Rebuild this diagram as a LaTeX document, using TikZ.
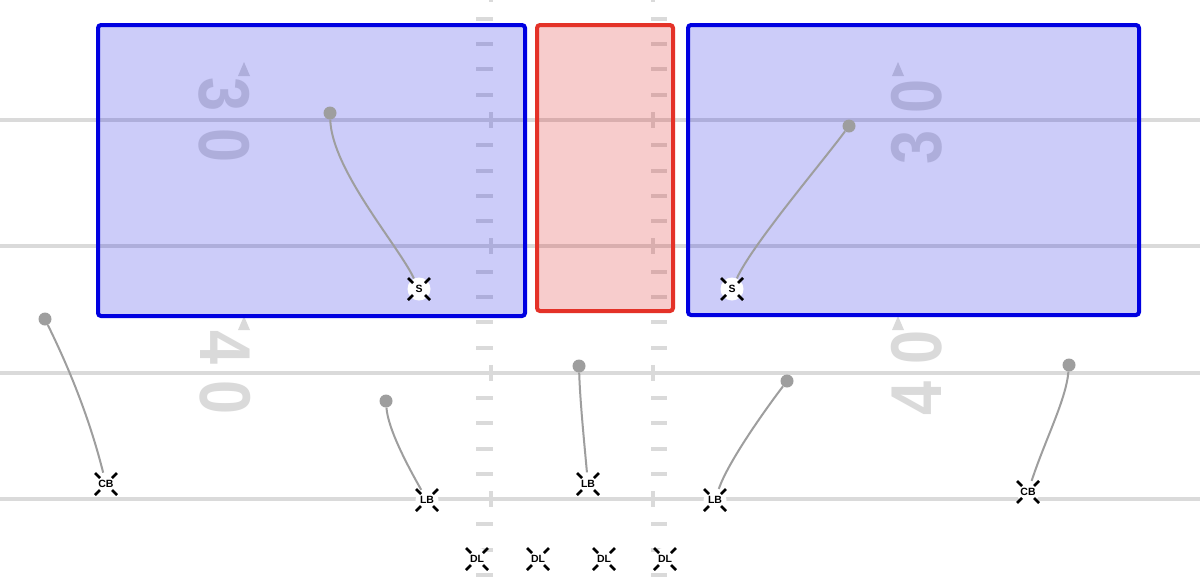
\documentclass[tikz,border=0pt]{standalone}
\usepackage{fontspec}
\setmainfont{Liberation Sans}
\usepackage{graphicx}
\definecolor{fieldgray}{RGB}{218,218,218}
\definecolor{routegray}{RGB}{158,158,158}
\definecolor{zoneblue}{RGB}{0,0,225}
\definecolor{zonered}{RGB}{228,50,40}
\definecolor{zoneredfill}{RGB}{215,0,0}
\tikzset{
  yardline/.style={draw=fieldgray, line width=4pt},
  hashmark/.style={draw=fieldgray, line width=4pt},
  yardnum/.style={text=fieldgray, font=\fontsize{72}{72}\selectfont\bfseries, inner sep=0pt},
  numarrow/.style={fill=fieldgray},
  bluezone/.style={draw=zoneblue, line width=4pt, fill=zoneblue, fill opacity=0.2, draw opacity=1, rounded corners=3pt},
  redzone/.style={draw=zonered, line width=4pt, fill=zoneredfill, fill opacity=0.2, draw opacity=1, rounded corners=3pt},
  route/.style={draw=routegray, line width=2pt},
  routeend/.style={circle, fill=routegray, minimum size=13pt, inner sep=0pt},
  player/.style={circle, fill=white, minimum size=23pt, inner sep=0pt, font=\fontsize{10.5}{10.5}\selectfont\bfseries},
  xtick/.style={draw=black, line width=2.6pt},
}
\begin{document}
\begin{tikzpicture}[x=1pt,y=-1pt]
\useasboundingbox (0,0) rectangle (1200,582);
\fill[white] (0,0) rectangle (1200,582);
% yard lines
\foreach \yy in {120,246.4,372.8,499.2}
  \draw[yardline] (0,\yy) -- (1200,\yy);
% hash marks
\foreach \base in {-6.4,120,246.4,372.8,499.2} {
  \draw[hashmark] (490.5,{\base-8}) -- (490.5,{\base+8});
  \draw[hashmark] (653,{\base-8}) -- (653,{\base+8});
  \foreach \j in {1,2,3,4} {
    \draw[hashmark] (476,{\base+25.28*\j}) -- (493,{\base+25.28*\j});
    \draw[hashmark] (651,{\base+25.28*\j}) -- (667,{\base+25.28*\j});
  }
}
% yard numbers
\node[yardnum, rotate=-90] (n30a) at (224,95) {\scalebox{0.85}[1]{3}};
\node[yardnum, rotate=-90] (n30b) at (224,146) {\scalebox{0.85}[1]{0}};
\node[yardnum, rotate=-90] (n40a) at (225,348) {\scalebox{0.85}[1]{4}};
\node[yardnum, rotate=-90] (n40b) at (225,398) {\scalebox{0.85}[1]{0}};
\node[yardnum, rotate=90] (m30a) at (917,96) {\scalebox{0.85}[1]{0}};
\node[yardnum, rotate=90] (m30b) at (917,147) {\scalebox{0.85}[1]{3}};
\node[yardnum, rotate=90] (m40a) at (917,347) {\scalebox{0.85}[1]{0}};
\node[yardnum, rotate=90] (m40b) at (917,398) {\scalebox{0.85}[1]{4}};
\fill[numarrow] (244,62) -- (250,76) -- (238,76) -- cycle;
\fill[numarrow] (244,316) -- (250,330) -- (238,330) -- cycle;
\fill[numarrow] (898,62) -- (904,76) -- (892,76) -- cycle;
\fill[numarrow] (898,316) -- (904,330) -- (892,330) -- cycle;
% zones
\draw[bluezone] (98,25) rectangle (525,316);
\draw[redzone] (537,25) rectangle (673,311);
\draw[bluezone] (688,25) rectangle (1139,315);
% players
\node[player] (sL) at (419,289) {S};
\node[player] (sR) at (732,289) {S};
\node[player] (cbL) at (106,484) {CB};
\node[player] (lbL) at (427,500) {LB};
\node[player] (lbM) at (588,484) {LB};
\node[player] (lbR) at (715,500) {LB};
\node[player] (cbR) at (1028,492) {CB};
\node[player] (dlA) at (477,559) {DL};
\node[player] (dlB) at (538,559) {DL};
\node[player] (dlC) at (604,559) {DL};
\node[player] (dlD) at (665,559) {DL};
% route ends
\node[routeend] (dsL) at (330,113) {};
\node[routeend] (dsR) at (849,126) {};
\node[routeend] (dcbL) at (45,319) {};
\node[routeend] (dlbL) at (386,401) {};
\node[routeend] (dlbM) at (579,366) {};
\node[routeend] (dlbR) at (787,381) {};
\node[routeend] (dcbR) at (1069,365) {};
% routes
\draw[route] (sL) .. controls (398,245) and (332,170) .. (dsL);
\draw[route] (sR) .. controls (752,245) and (820,165) .. (dsR);
\draw[route] (cbL) .. controls (85,400) and (56,342) .. (dcbL);
\draw[route] (lbL) .. controls (410,470) and (388,430) .. (dlbL);
\draw[route] (lbM) .. controls (584,440) and (580,400) .. (dlbM);
\draw[route] (lbR) .. controls (728,462) and (765,410) .. (dlbR);
\draw[route] (cbR) .. controls (1045,440) and (1066,400) .. (dcbR);
% player ticks
\foreach \n in {sL,sR,cbL,lbL,lbM,lbR,cbR,dlA,dlB,dlC,dlD}
  \foreach \sx/\sy in {1/1,1/-1,-1/1,-1/-1}
    \draw[xtick] ([shift={({6*(\sx)},{6*(\sy)})}]\n.center) -- ([shift={({11*(\sx)},{11*(\sy)})}]\n.center);
\end{tikzpicture}
\end{document}
